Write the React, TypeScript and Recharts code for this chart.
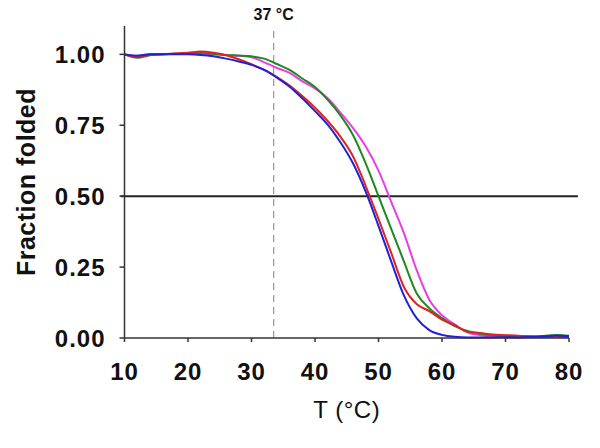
import React from "react";
import {
    LineChart,
    Line,
    XAxis,
    YAxis,
    ReferenceLine,
} from "recharts";

// temperature grid (°C)
const temps = [10, 12, 14, 16, 18, 20, 22, 24, 26, 28, 30, 32, 34, 36, 38, 40, 42, 44, 46, 48, 50, 52, 54, 56, 58, 60, 62, 64, 66, 68, 70, 72, 74, 76, 78, 80];

// fraction folded, one array per melting curve
const blueVals = [1.0, 0.995, 1.0, 1.0, 1.0, 1.0, 0.998, 0.993, 0.985, 0.975, 0.963, 0.945, 0.918, 0.886, 0.845, 0.8, 0.752, 0.69, 0.615, 0.515, 0.395, 0.27, 0.15, 0.07, 0.028, 0.011, 0.004, 0.002, 0.002, 0.002, 0.003, 0.002, 0.004, 0.006, 0.009, 0.006];
const redVals = [1.0, 0.99, 0.998, 1.0, 1.003, 1.006, 1.01, 1.006, 0.997, 0.983, 0.965, 0.945, 0.92, 0.89, 0.853, 0.812, 0.765, 0.71, 0.64, 0.535, 0.42, 0.3, 0.18, 0.12, 0.095, 0.065, 0.045, 0.022, 0.018, 0.012, 0.01, 0.008, 0.005, 0.004, 0.005, 0.004];
const greenVals = [1.0, 0.988, 0.997, 1.0, 1.002, 1.003, 1.005, 1.002, 0.998, 0.996, 0.993, 0.985, 0.966, 0.945, 0.915, 0.885, 0.84, 0.785, 0.715, 0.615, 0.5, 0.385, 0.27, 0.158, 0.105, 0.07, 0.042, 0.025, 0.015, 0.01, 0.008, 0.006, 0.005, 0.007, 0.011, 0.008];
const magentaVals = [1.0, 0.995, 1.0, 1.0, 1.002, 1.003, 1.003, 1.0, 0.998, 0.995, 0.99, 0.972, 0.952, 0.935, 0.905, 0.88, 0.845, 0.795, 0.74, 0.675, 0.59, 0.48, 0.37, 0.24, 0.135, 0.08, 0.048, 0.02, 0.01, 0.006, 0.004, 0.003, 0.003, 0.004, 0.004, 0.003];

const xTicks = [10, 20, 30, 40, 50, 60, 70, 80];
const yTicks = [0, 0.25, 0.5, 0.75, 1.0];
const bodyTempMark = 33.5;

const FONT = '"Liberation Sans", Arial, sans-serif';

const App: React.FC = () => {
    const data = temps.map((t, i) => ({
        t,
        blue: blueVals[i],
        red: redVals[i],
        green: greenVals[i],
        magenta: magentaVals[i],
    }));

    const tickStyle = { fontSize: 24, fontWeight: 700, fill: "#111", fontFamily: FONT, letterSpacing: 1 };

    return (
        <div style={{ position: "absolute", left: 0, top: 0, width: 600, height: 448, background: "#fff" }}>
            <LineChart width={600} height={448} data={data} margin={{ top: 26, right: 31, left: 0, bottom: 0 }}>
                <XAxis
                    dataKey="t"
                    type="number"
                    domain={[10, 80]}
                    ticks={xTicks}
                    height={110}
                    stroke="#333"
                    strokeWidth={1.5}
                    tickSize={4}
                    tickMargin={21}
                    tick={tickStyle}
                    label={{ value: "T (°C)", position: "insideBottom", offset: 30, style: { fontSize: 24, fill: "#111", fontFamily: FONT, letterSpacing: 0.5 } }}
                />
                <YAxis
                    type="number"
                    domain={[0, 1.1]}
                    ticks={yTicks}
                    width={124.5}
                    stroke="#333"
                    strokeWidth={1.5}
                    tickSize={5}
                    tickMargin={14}
                    tick={tickStyle}
                    tickFormatter={(v: number) => v.toFixed(2)}
                    label={{ value: "Fraction folded", angle: -90, position: "center", dx: -36, style: { fontSize: 25, fontWeight: 700, fill: "#111", fontFamily: FONT, letterSpacing: 0.5, textAnchor: "middle" } }}
                />
                <ReferenceLine
                    x={bodyTempMark}
                    stroke="#808080"
                    strokeWidth={1}
                    strokeDasharray="7 5"
                    label={{ value: "37 °C", position: "top", offset: 6, style: { fontSize: 16, fontWeight: 700, fill: "#111", fontFamily: FONT } }}
                />
                <ReferenceLine
                    segment={[{ x: 9.4, y: 0.5 }, { x: 81.4, y: 0.5 }]}
                    ifOverflow="visible"
                    stroke="#222"
                    strokeWidth={2}
                />
                <Line type="monotone" dataKey="magenta" stroke="#e83ee8" strokeWidth={2} dot={false} isAnimationActive={false} />
                <Line type="monotone" dataKey="green" stroke="#1e8a1e" strokeWidth={2} dot={false} isAnimationActive={false} />
                <Line type="monotone" dataKey="red" stroke="#e02222" strokeWidth={2} dot={false} isAnimationActive={false} />
                <Line type="monotone" dataKey="blue" stroke="#2020d8" strokeWidth={2} dot={false} isAnimationActive={false} />
            </LineChart>
        </div>
    );
};

export default App;
